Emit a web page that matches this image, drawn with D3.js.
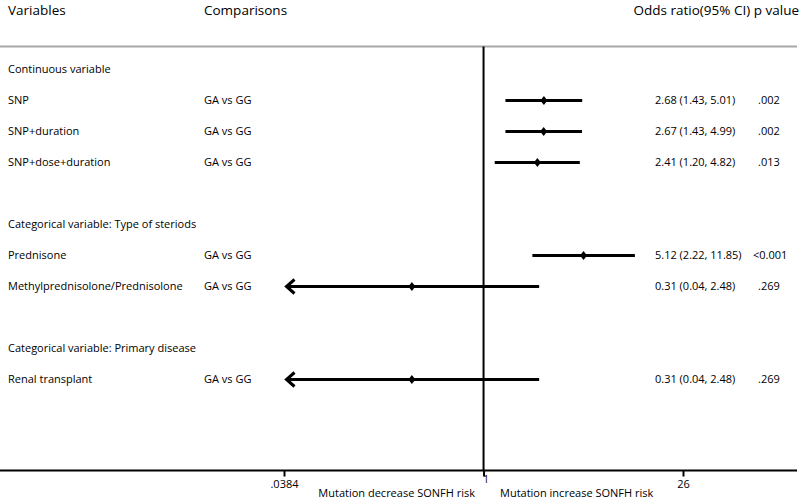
<!DOCTYPE html>
<html>
<head>
<meta charset="utf-8">
<script src="https://cdn.jsdelivr.net/npm/d3@7"></script>
<style>
  html, body { margin: 0; padding: 0; background: #fff; }
  svg { display: block; font-family: "Open Sans", "Noto Sans", sans-serif; }
</style>
</head>
<body>
<svg id="chart" width="800" height="499"></svg>
<script>
// ---- data ----
const rowLabels = ["Continuous variable", "SNP", "SNP+duration", "SNP+dose+duration", "",
  "Categorical variable: Type of steriods", "Prednisone", "Methylprednisolone/Prednisolone", "",
  "Categorical variable: Primary disease", "Renal transplant"];
const comparisons = ["", "GA vs GG", "GA vs GG", "GA vs GG", "", "", "GA vs GG", "GA vs GG", "", "", "GA vs GG"];
const oddsRatio = [null, 2.68, 2.67, 2.41, null, null, 5.12, 0.31, null, null, 0.31];
const ciLower  = [null, 1.43, 1.43, 1.20, null, null, 2.22, 0.04, null, null, 0.04];
const ciUpper  = [null, 5.01, 4.99, 4.82, null, null, 11.85, 2.48, null, null, 2.48];
const truncatedLeft = [false, false, false, false, false, false, false, true, false, false, true];
const pValues = ["", ".002", ".002", ".013", "", "", "<0.001", ".269", "", "", ".269"];
const tickValues = [0.0384, 1, 26];
const tickLabels = [".0384", "1", "26"];
const headers = ["Variables", "Comparisons", "Odds ratio(95% CI) p value"];
const axisCaptions = ["Mutation decrease SONFH risk", "Mutation increase SONFH risk"];

// ---- drawing ----
const svg = d3.select("#chart");
const x = d3.scaleLog().domain([0.0384, 26]).range([284, 683]);
const y = d3.scaleLinear().domain([0, 10]).range([69.5, 379.5]);
const fs = 11;
const axisY = 470.5;
const topY = 46.5;

// headers
svg.append("text").attr("x", 8).attr("y", 15).attr("font-size", 13.5).text(headers[0]);
svg.append("text").attr("x", 204).attr("y", 15).attr("font-size", 13.5).text(headers[1]);
svg.append("text").attr("x", 799).attr("y", 15).attr("text-anchor", "end").attr("font-size", 13.5).text(headers[2]);

// top grey rule
svg.append("line").attr("x1", 0).attr("x2", 797).attr("y1", topY).attr("y2", topY)
  .attr("stroke", "#a8a8a8").attr("stroke-width", 2);

// vertical null line
svg.append("line").attr("x1", x(1)).attr("x2", x(1)).attr("y1", topY).attr("y2", axisY)
  .attr("stroke", "#000").attr("stroke-width", 2);

// rows
const rows = rowLabels.map((l, i) => ({ i, label: l, comp: comparisons[i], or: oddsRatio[i],
  lo: ciLower[i], hi: ciUpper[i], trunc: truncatedLeft[i], p: pValues[i] }));

const g = svg.append("g");
g.selectAll("text.lab").data(rows).join("text").attr("class", "lab")
  .attr("x", 8).attr("y", d => y(d.i)).attr("dy", "0.35em").attr("font-size", fs).text(d => d.label);
g.selectAll("text.cmp").data(rows).join("text").attr("class", "cmp")
  .attr("x", 204).attr("y", d => y(d.i)).attr("dy", "0.35em").attr("font-size", fs).text(d => d.comp);

const est = rows.filter(d => d.or !== null);
g.selectAll("line.ci").data(est).join("line").attr("class", "ci")
  .attr("x1", d => x(d.lo)).attr("x2", d => x(d.hi))
  .attr("y1", d => y(d.i)).attr("y2", d => y(d.i))
  .attr("stroke", "#000").attr("stroke-width", 3);
g.selectAll("path.arrow").data(est.filter(d => d.trunc)).join("path").attr("class", "arrow")
  .attr("d", d => {
    const ax = x(d.lo), ay = y(d.i);
    return `M${ax + 8},${ay - 7} L${ax},${ay} L${ax + 8},${ay + 7}`;
  })
  .attr("fill", "none").attr("stroke", "#000").attr("stroke-width", 3);
g.selectAll("path.dia").data(est).join("path").attr("class", "dia")
  .attr("d", d => {
    const cx = x(d.or), cy = y(d.i);
    return `M${cx},${cy - 4.5} L${cx + 3.5},${cy} L${cx},${cy + 4.5} L${cx - 3.5},${cy} Z`;
  })
  .attr("fill", "#000");

g.selectAll("text.or").data(est).join("text").attr("class", "or")
  .attr("x", 655).attr("y", d => y(d.i)).attr("dy", "0.35em").attr("font-size", fs)
  .text(d => `${d.or.toFixed(2)} (${d.lo.toFixed(2)}, ${d.hi.toFixed(2)})`);
g.selectAll("text.pv").data(est).join("text").attr("class", "pv")
  .attr("x", d => d.p.startsWith("<") ? 753 : 758).attr("y", d => y(d.i)).attr("dy", "0.35em").attr("font-size", fs)
  .text(d => d.p);

// bottom axis
const axis = d3.axisBottom(x).tickValues(tickValues).tickFormat((d, i) => tickLabels[i]).tickSize(6).tickSizeOuter(0);
const ag = svg.append("g").attr("transform", `translate(0,${axisY})`).call(axis);
ag.select(".domain").remove();
ag.append("line").attr("x1", 0).attr("x2", 797).attr("stroke", "#000").attr("stroke-width", 2);
ag.selectAll(".tick line").attr("stroke", "#000").attr("stroke-width", 2);
ag.selectAll(".tick text").attr("fill", "#000").attr("font-size", fs)
  .attr("font-family", "'Open Sans', sans-serif").attr("y", 10);
ag.selectAll(".tick text").filter(d => d === 1).attr("y", 5).attr("font-size", 10).attr("dx", 2);

svg.append("text").attr("x", 475).attr("y", 497).attr("text-anchor", "end").attr("font-size", fs).text(axisCaptions[0]);
svg.append("text").attr("x", 500).attr("y", 497).attr("font-size", fs).text(axisCaptions[1]);
</script>
</body>
</html>
